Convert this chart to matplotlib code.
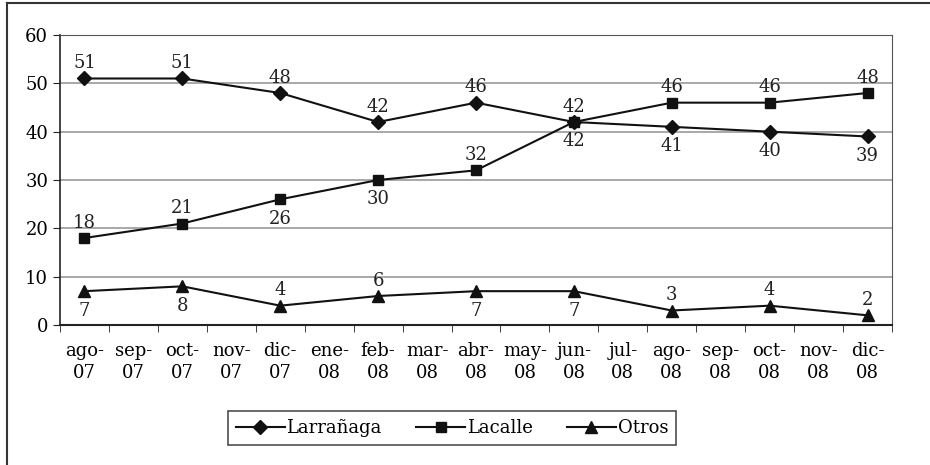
import matplotlib
matplotlib.use("Agg")
import matplotlib.pyplot as plt
from matplotlib.lines import Line2D

months = ["ago-\n07", "sep-\n07", "oct-\n07", "nov-\n07", "dic-\n07", "ene-\n08",
          "feb-\n08", "mar-\n08", "abr-\n08", "may-\n08", "jun-\n08", "jul-\n08",
          "ago-\n08", "sep-\n08", "oct-\n08", "nov-\n08", "dic-\n08"]
survey_idx = [0, 2, 4, 6, 8, 10, 12, 14, 16]
larranaga = [51, 51, 48, 42, 46, 42, 41, 40, 39]
lacalle = [18, 21, 26, 30, 32, 42, 46, 46, 48]
otros = [7, 8, 4, 6, 7, 7, 3, 4, 2]
# label placement: 1 = above, -1 = below
larr_pos = [1, 1, 1, 1, 1, -1, -1, -1, -1]
lac_pos = [1, 1, -1, -1, 1, 1, 1, 1, 1]
otros_pos = [-1, -1, 1, 1, -1, -1, 1, 1, 1]

plt.rcParams['font.family'] = ['DejaVu Serif']
fig = plt.figure(figsize=(9.3, 4.65), dpi=100)
ax = fig.add_axes([60/930, 1-325/465, 832/930, 290/465])

series = [("Larrañaga", larranaga, "D", 7, larr_pos),
          ("Lacalle", lacalle, "s", 7, lac_pos),
          ("Otros", otros, "^", 9, otros_pos)]
handles = []
for name, vals, mk, ms, pos in series:
    h, = ax.plot(survey_idx, vals, color="#111111", lw=1.5, marker=mk, ms=ms,
                 markerfacecolor="#111111", markeredgecolor="#111111", label=name)
    handles.append(h)
    for x, v, p in zip(survey_idx, vals, pos):
        ax.annotate(str(v), (x, v), xytext=(0, 4.5 if p > 0 else -7.5),
                    textcoords="offset points",
                    ha="center", va="bottom" if p > 0 else "top", fontsize=13,
                    color="#222222")

ax.set_xlim(-0.5, 16.5)
ax.set_ylim(0, 60)
ax.set_yticks(range(0, 61, 10))
ax.set_xticks(range(17))
ax.set_xticklabels(months, fontsize=13, linespacing=1.3)
ax.set_xticks([i - 0.5 for i in range(18)], minor=True)
ax.tick_params(axis="x", which="major", length=0, pad=12)
ax.tick_params(axis="x", which="minor", length=5, direction="out", color="#222222")
ax.tick_params(axis="y", length=5, direction="out", labelsize=13, color="#222222")
ax.grid(axis="y", color="#999999", lw=1.2)
ax.set_axisbelow(True)
ax.spines["top"].set_color("#555555")
ax.spines["right"].set_color("#555555")
ax.spines["left"].set_color("#222222")
ax.spines["bottom"].set_color("#222222")
ax.spines["left"].set_linewidth(1.2)
ax.spines["bottom"].set_linewidth(1.5)

leg = fig.legend(handles=handles, loc="center", bbox_to_anchor=(452/930, 1-428/465),
                 ncol=3, frameon=True, fontsize=13, fancybox=False, edgecolor="#222222",
                 handlelength=2.7, handletextpad=0.1, columnspacing=1.9,
                 borderpad=0.45)
leg.get_frame().set_linewidth(1.2)

# outer frame (top and left visible)
fig.add_artist(Line2D([7/930, 1], [1-3/465, 1-3/465], color="#333333", lw=1.5,
                      transform=fig.transFigure))
fig.add_artist(Line2D([7/930, 7/930], [0, 1-3/465], color="#333333", lw=1.5,
                      transform=fig.transFigure))

fig.savefig("out.png", dpi=100)
